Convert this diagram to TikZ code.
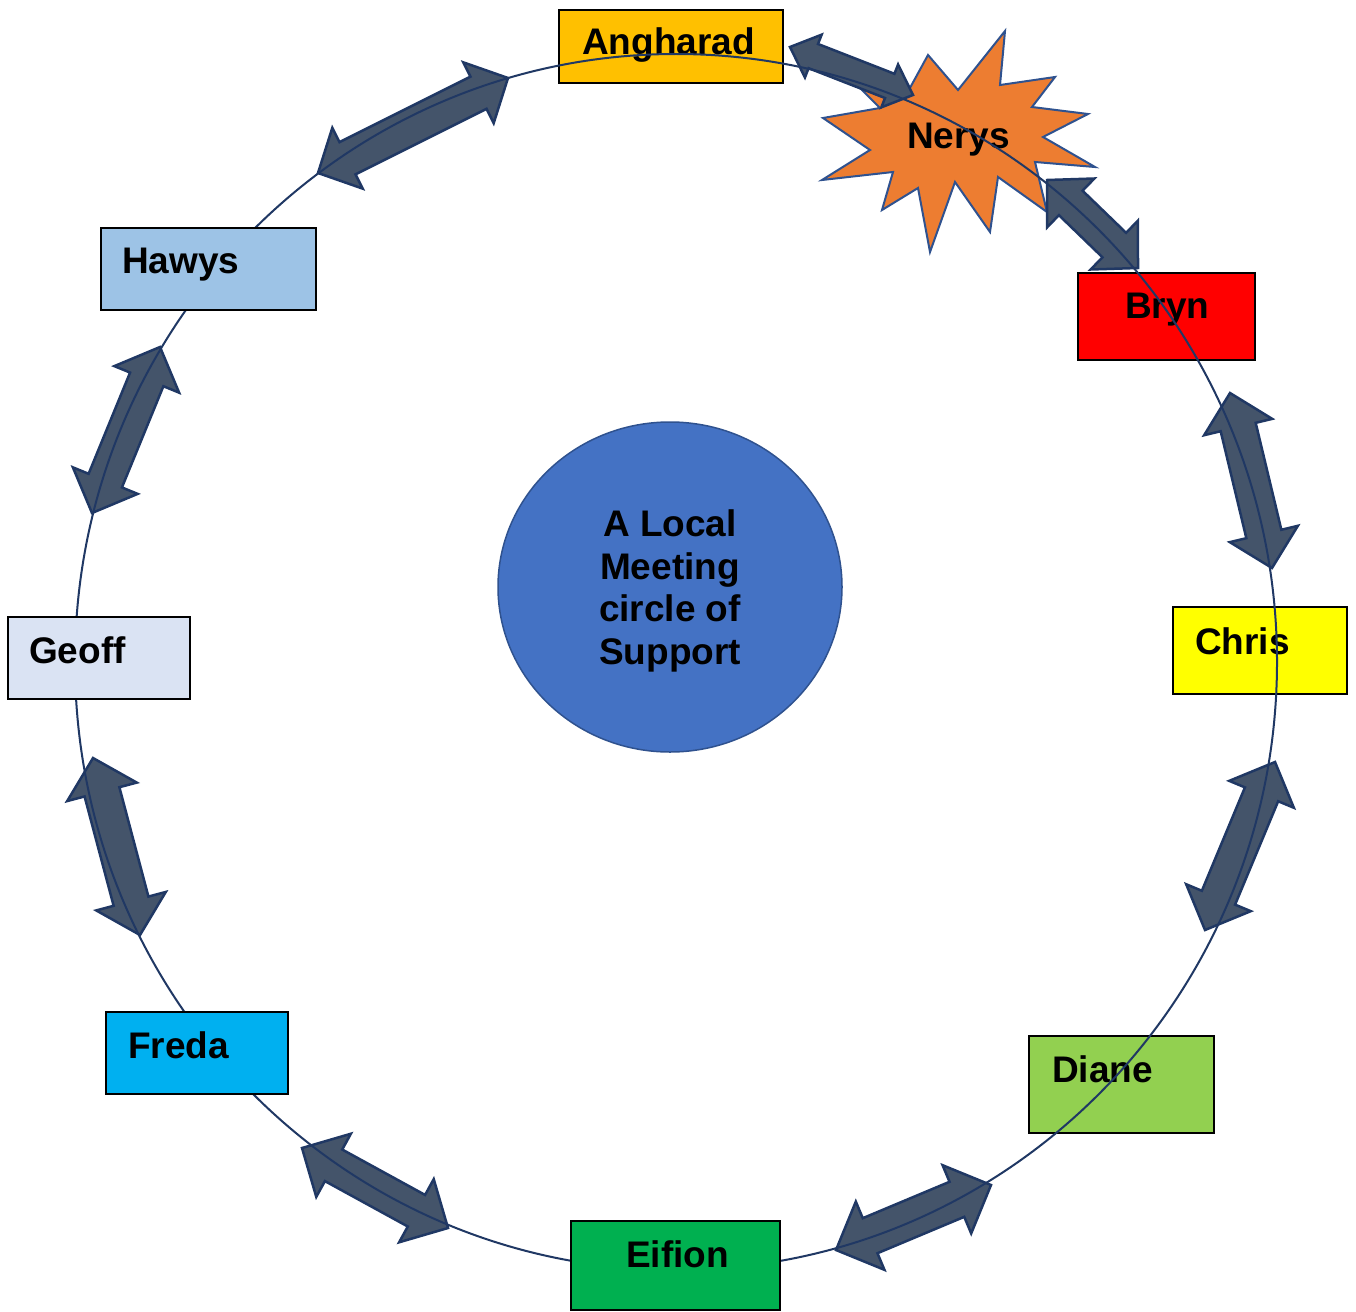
\documentclass[tikz,border=0pt]{standalone}
\usepackage{fontspec}
\setmainfont{Liberation Sans}
\usetikzlibrary{calc,shapes.geometric}
\definecolor{arrfill}{HTML}{44546A}
\definecolor{navy}{HTML}{203864}
\definecolor{hubblue}{HTML}{4472C4}
\definecolor{hubedge}{HTML}{2F528F}
\definecolor{cAng}{HTML}{FFC000}
\definecolor{cBryn}{HTML}{FF0000}
\definecolor{cChris}{HTML}{FFFF00}
\definecolor{cDiane}{HTML}{92D050}
\definecolor{cEifion}{HTML}{00B050}
\definecolor{cFreda}{HTML}{00B0F0}
\definecolor{cGeoff}{HTML}{DAE3F3}
\definecolor{cHawys}{HTML}{9DC3E6}
\definecolor{cNerys}{HTML}{ED7D31}
\tikzset{
  namebox/.style={draw=black, line width=1.5pt, rectangle, inner sep=0pt},
  nametext/.style={inner sep=0pt, anchor=base west, font=\fontsize{37}{43}\selectfont\bfseries},
  arrowbody/.style={fill=arrfill, draw=navy, line width=2.5pt, line join=miter},
  ringline/.style={draw=navy, line width=2pt},
}
\newcommand\dblarrow[5]{%
  \coordinate (#1-#2-ha) at ($(#1)!#5!(#2)$);
  \coordinate (#1-#2-hb) at ($(#2)!#5!(#1)$);
  \filldraw[arrowbody] (#1)
    -- ($(#1-#2-ha)!#4!90:(#2)$) -- ($(#1-#2-ha)!#3!90:(#2)$)
    -- ($(#1-#2-hb)!#3!-90:(#1)$) -- ($(#1-#2-hb)!#4!-90:(#1)$)
    -- (#2)
    -- ($(#1-#2-hb)!#4!90:(#1)$) -- ($(#1-#2-hb)!#3!90:(#1)$)
    -- ($(#1-#2-ha)!#3!-90:(#2)$) -- ($(#1-#2-ha)!#4!-90:(#2)$)
    -- cycle;
}
\begin{document}
\begin{tikzpicture}[x=1pt,y=-1pt]
\useasboundingbox (0,0) rectangle (1356,1311);

% boxes beneath the ring
\node[namebox, fill=cAng, minimum width=224pt, minimum height=73pt] (ang) at (671,46.5) {};
\node[nametext] (angt) at (582,55) {Angharad};
\node[namebox, fill=cBryn, minimum width=177pt, minimum height=87pt] (bryn) at (1166.5,316.5) {};
\node[nametext] (brynt) at (1125,318) {Bryn};
\node[namebox, fill=cChris, minimum width=174pt, minimum height=87pt] (chris) at (1260,650.5) {};
\node[nametext] (christ) at (1195,654) {Chris};
\node[namebox, fill=cDiane, minimum width=185pt, minimum height=97pt] (diane) at (1121.5,1084.5) {};
\node[nametext] (dianet) at (1052,1082) {Diane};

% Nerys explosion
\filldraw[fill=cNerys, draw=hubedge, line width=2pt, line join=miter]
  (1005,31) -- (1000,85) -- (1055,77) -- (1032,107) -- (1088,114) -- (1043,137)
  -- (1095,167) -- (1035,162) -- (1047,212) -- (998,177) -- (990,232) -- (955,182)
  -- (930,252) -- (918,188) -- (882,210) -- (893,172) -- (822,180) -- (870,150)
  -- (823,118) -- (880,108) -- (860,88) -- (905,97) -- (928,55) -- (958,90) -- cycle;
\node[nametext] (nerys) at (907,148) {Nerys};

% arrow end points
\coordinate (p1a) at (318,173);  \coordinate (p1b) at (508,78);
\coordinate (p2a) at (790,47);   \coordinate (p2b) at (913,95);
\coordinate (p3a) at (1047,180); \coordinate (p3b) at (1138,268);
\coordinate (p4a) at (1230,393); \coordinate (p4b) at (1272,568);
\coordinate (p5a) at (1275,762); \coordinate (p5b) at (1205,930);
\coordinate (p6a) at (991,1185); \coordinate (p6b) at (836,1250);
\coordinate (p7a) at (448,1228); \coordinate (p7b) at (302,1148);
\coordinate (p8a) at (140,935);  \coordinate (p8b) at (93,758);
\coordinate (p9a) at (92,513);   \coordinate (p9b) at (160,347);

\dblarrow{p1a}{p1b}{18pt}{34pt}{33pt}
\dblarrow{p2a}{p2b}{13pt}{23pt}{25pt}
\dblarrow{p3a}{p3b}{17pt}{34pt}{33pt}
\dblarrow{p4a}{p4b}{18pt}{35pt}{35pt}
\dblarrow{p5a}{p5b}{18pt}{35pt}{35pt}
\dblarrow{p6a}{p6b}{19pt}{37pt}{37pt}
\dblarrow{p7a}{p7b}{18pt}{36pt}{36pt}
\dblarrow{p8a}{p8b}{18pt}{36pt}{35pt}
\dblarrow{p9a}{p9b}{18pt}{35pt}{35pt}

% the ring
\draw[ringline] (676,662) ellipse [x radius=601pt, y radius=608pt];

% boxes above the ring
\node[namebox, fill=cHawys, minimum width=215pt, minimum height=82pt] (hawys) at (208.5,269) {};
\node[nametext] (hawyst) at (122,273) {Hawys};
\node[namebox, fill=cGeoff, minimum width=182pt, minimum height=82pt] (geoff) at (99,658) {};
\node[nametext] (geofft) at (29,663) {Geoff};
\node[namebox, fill=cFreda, minimum width=182pt, minimum height=82pt] (freda) at (197,1053) {};
\node[nametext] (fredat) at (128,1058) {Freda};
\node[namebox, fill=cEifion, minimum width=209pt, minimum height=89pt] (eifion) at (675.5,1265.5) {};
\node[nametext] (eifiont) at (626,1267) {Eifion};

% centre
\node[ellipse, fill=hubblue, draw=hubedge, line width=1.5pt, minimum width=344pt, minimum height=330pt, inner sep=0pt] (hub) at (670,587) {};
\node[inner sep=0pt, align=center, font=\fontsize{37}{42.7}\selectfont\bfseries] (hubtext) at (670,591) {A Local\\Meeting\\circle of\\Support};
\end{tikzpicture}
\end{document}
